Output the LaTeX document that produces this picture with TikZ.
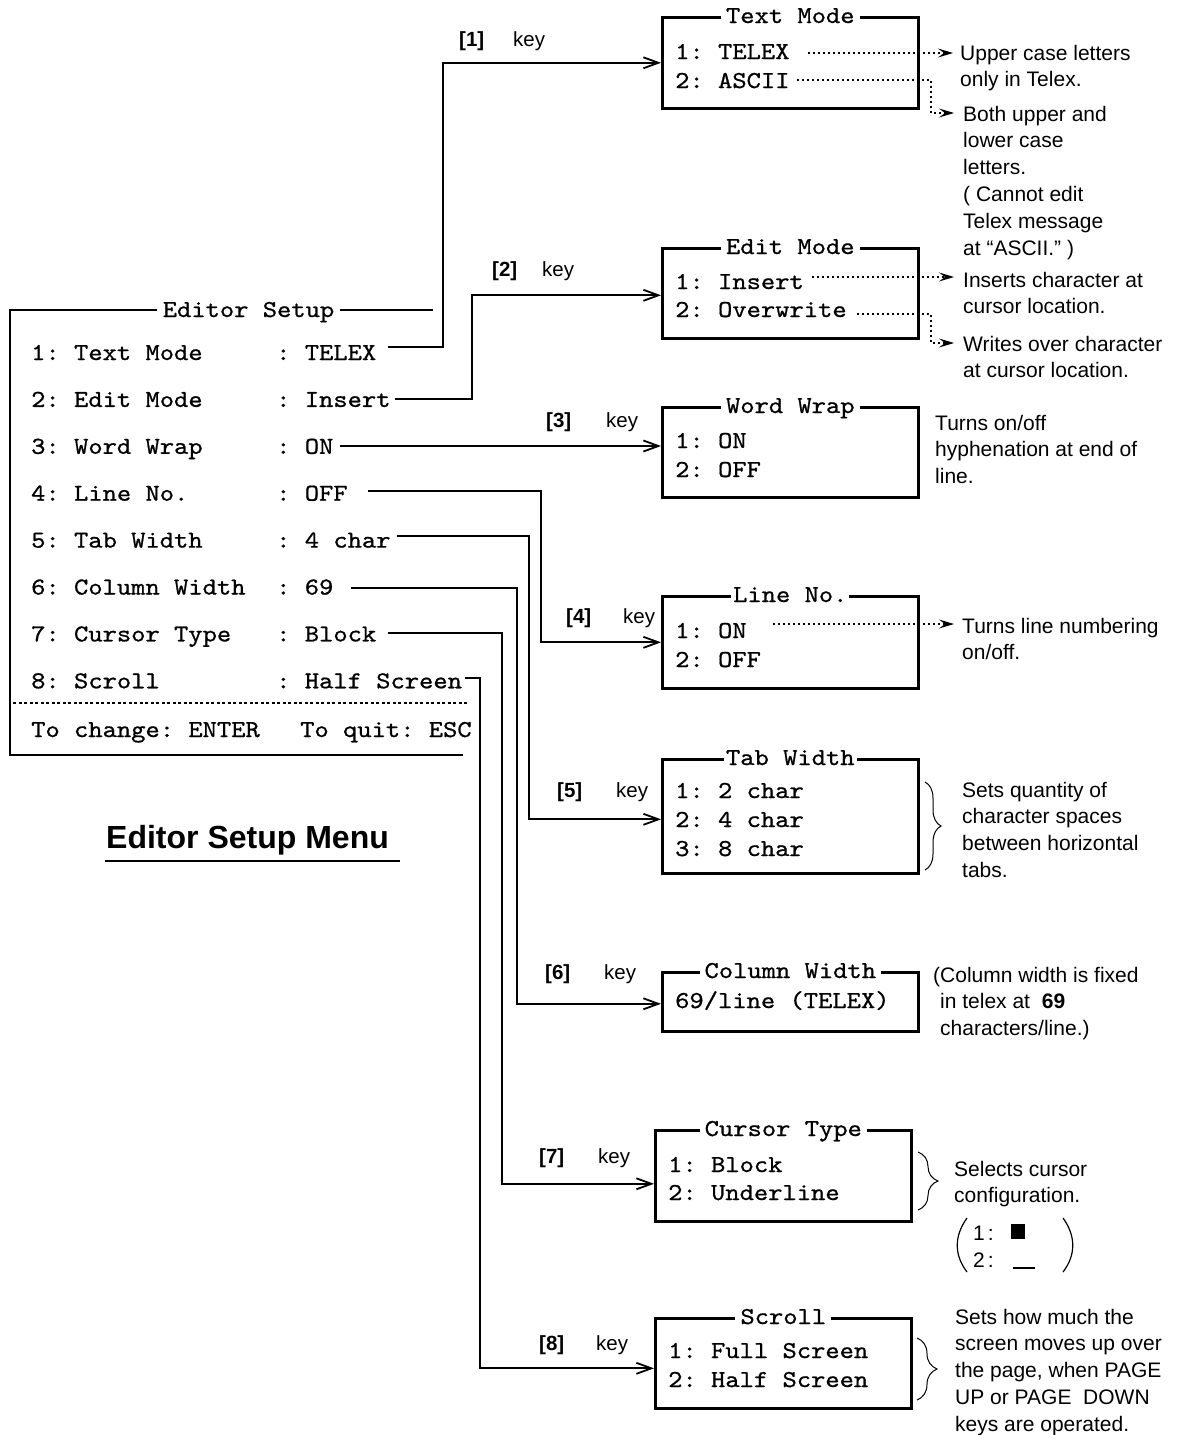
\documentclass[tikz,border=0pt]{standalone}
\usepackage{fontspec}
\usetikzlibrary{arrows.meta,decorations.pathreplacing}
\newfontfamily\sansf{Liberation Sans}
\newfontfamily\monof{lmmono10-regular}[Extension=.otf,FakeStretch=1.12,FakeBold=0.8]
\newcommand\mlines[1]{\vtop{\let\\\cr\halign{##\hfil\cr#1\crcr}}}
\begin{document}
\frenchspacing
\begin{tikzpicture}[x=1pt,y=-1pt,
  mono/.style={font=\monof\fontsize{24.3}{29}\selectfont, inner sep=0pt, anchor=base west},
  ttl/.style={font=\monof\fontsize{24.3}{29}\selectfont, fill=white, inner xsep=5pt, inner ysep=0pt, anchor=base},
  ann/.style={font=\sansf\fontsize{21}{26.8}\selectfont, inner sep=0pt, anchor=base west},
  keyn/.style={font=\sansf\bfseries\fontsize{20.5}{24}\selectfont, inner sep=0pt, anchor=base west},
  keyw/.style={font=\sansf\fontsize{20.5}{24}\selectfont, inner sep=0pt, anchor=base west},
  boxfr/.style={draw, line width=2.6pt, inner sep=0pt, anchor=north west, minimum width=256pt},
  conn/.style={line width=1.8pt, -{Straight Barb[length=15pt,width=11pt]}},
  dotconn/.style={line width=1.4pt, dash pattern=on 2pt off 3pt, -{Stealth[length=15pt,width=9pt,inset=6pt]}},
  brc/.style={line width=1pt, decorate, decoration={brace, amplitude=#1}},
]
\fill[white] (0,0) rectangle (1177,1435);
\useasboundingbox (0,0) rectangle (1177,1435);

% ---------------- main menu ----------------
\draw[line width=2.6pt] (433,310) -- (10,310) -- (10,755) -- (463,755);
\node[ttl, inner xsep=6pt] (est) at (248.5,317) {Editor Setup};
\foreach \lab/\val [count=\n] in {{1: Text Mode}/TELEX, {2: Edit Mode}/Insert, {3: Word Wrap}/ON, {4: Line No.}/OFF, {5: Tab Width}/{4 char}, {6: Column Width}/69, {7: Cursor Type}/Block, {8: Scroll}/{Half Screen}} {
  \pgfmathsetmacro\yy{360+46.9*(\n-1)}
  \node[mono] (l\n) at (31,\yy) {\lab};
  \node[mono] (c\n) at (276,\yy) {:};
  \node[mono] (v\n) at (304.6,\yy) {\val};
}
\draw[line width=1.2pt, dash pattern=on 3pt off 2.5pt] (13,703) -- (468,703);
\node[mono] (chg) at (31,737) {To change: ENTER};
\node[mono] (quit) at (300,737) {To quit: ESC};

\node[font=\sansf\bfseries\fontsize{32}{36}\selectfont, inner sep=0pt, anchor=base west] (menu) at (106,848) {Editor Setup Menu};
\draw[line width=1.6pt] ([xshift=-1pt,yshift=-13pt]menu.base west) -- ([xshift=11pt,yshift=-13pt]menu.base east);

% ---------------- sub boxes ----------------
\node[boxfr, minimum height=91pt] (tm) at (661,16) {};
\node[ttl] (tmT) at ([yshift=-7pt]tm.north) {Text Mode};
\node[mono] (tm1) at (675,59) {1: TELEX};
\node[mono] (tm2) at (675,88) {2: ASCII};

\node[boxfr, minimum height=90pt] (em) at (661,247) {};
\node[ttl] (emT) at ([yshift=-7pt]em.north) {Edit Mode};
\node[mono] (em1) at (675,289) {1: Insert};
\node[mono] (em2) at (675,317) {2: Overwrite};

\node[boxfr, minimum height=90pt] (ww) at (661,406) {};
\node[ttl] (wwT) at ([yshift=-7pt]ww.north) {Word Wrap};
\node[mono] (ww1) at (675,448) {1: ON};
\node[mono] (ww2) at (675,477) {2: OFF};

\node[boxfr, minimum height=92pt] (ln) at (661,595) {};
\node[ttl, inner xsep=2pt] (lnT) at ([yshift=-7pt]ln.north) {Line No.};
\node[mono] (ln1) at (675,638) {1: ON};
\node[mono] (ln2) at (675,667) {2: OFF};

\node[boxfr, minimum height=114pt] (tw) at (661,758) {};
\node[ttl, inner xsep=2pt] (twT) at ([yshift=-7pt]tw.north) {Tab Width};
\node[mono] (tw1) at (675,798) {1: 2 char};
\node[mono] (tw2) at (675,827) {2: 4 char};
\node[mono] (tw3) at (675,856) {3: 8 char};

\node[boxfr, minimum height=59pt] (cw) at (661,971) {};
\node[ttl] (cwT) at ([yshift=-7pt]cw.north) {Column Width};
\node[mono] (cw1) at (675,1008) {69/line (TELEX)};

\node[boxfr, minimum height=91pt] (ct) at (654,1129) {};
\node[ttl] (ctT) at ([yshift=-7pt]ct.north) {Cursor Type};
\node[mono] (ct1) at (668,1172) {1: Block};
\node[mono] (ct2) at (668,1200) {2: Underline};

\node[boxfr, minimum height=90pt] (sc) at (654,1317) {};
\node[ttl] (scT) at ([yshift=-7pt]sc.north) {Scroll};
\node[mono] (sc1) at (668,1358) {1: Full Screen};
\node[mono] (sc2) at (668,1387) {2: Half Screen};

% ---------------- connectors ----------------
\coordinate (s1) at (388,347);
\coordinate (s2) at (395,399);
\coordinate (s3) at (340,446);
\coordinate (s4) at (368,491);
\coordinate (s5) at (397,536);
\coordinate (s6) at (351,588);
\coordinate (s7) at (388,633);
\coordinate (s8) at (465,678);
\draw[conn] (s1) -- (443,347) |- (tm.west);
\draw[conn] (s2) -- (472,399) |- ([yshift=-2pt]em.west);
\draw[conn] (s3) -- (s3 -| ww.west);
\draw[conn] (s4) -- (541,491) |- (ln.west);
\draw[conn] (s5) -- (529,536) |- ([yshift=-3pt]tw.west);
\draw[conn] (s6) -- (517,588) |- ([yshift=-2pt]cw.west);
\draw[conn] (s7) -- (502,633) |- ([yshift=-8pt]ct.west);
\draw[conn] (s8) -- (480,678) |- ([yshift=-5pt]sc.west);

\node[keyn] (k1) at (459,46) {[1]};   \node[keyw] (kw1) at (513,46) {key};
\node[keyn] (k2) at (492,276) {[2]};  \node[keyw] (kw2) at (542,276) {key};
\node[keyn] (k3) at (546,427) {[3]};  \node[keyw] (kw3) at (606,427) {key};
\node[keyn] (k4) at (566,623) {[4]};  \node[keyw] (kw4) at (623,623) {key};
\node[keyn] (k5) at (557,797) {[5]};  \node[keyw] (kw5) at (616,797) {key};
\node[keyn] (k6) at (545,979) {[6]};  \node[keyw] (kw6) at (604,979) {key};
\node[keyn] (k7) at (539,1163) {[7]}; \node[keyw] (kw7) at (598,1163) {key};
\node[keyn] (k8) at (539,1350) {[8]}; \node[keyw] (kw8) at (596,1350) {key};

% ---------------- annotations ----------------
\node[ann] (aT) at (960,60) {\mlines{Upper case letters\\only in Telex.}};
\node[ann] (aA) at (963,121) {\mlines{Both upper and\\lower case\\letters.\\( Cannot edit\\Telex message\\at “ASCII.” )}};
\node[ann] (aI) at (963,287) {\mlines{Inserts character at\\cursor location.}};
\node[ann] (aO) at (963,351) {\mlines{Writes over character\\at cursor location.}};
\node[ann] (aW) at (935,430) {\mlines{Turns on/off\\hyphenation at end of\\line.}};
\node[ann] (aL) at (962,633) {\mlines{Turns line numbering\\on/off.}};
\node[ann] (aTab) at (962,797) {\mlines{Sets quantity of\\character spaces\\between horizontal\\tabs.}};
\node[ann] (aC) at (933,982) {\mlines{(Column width is fixed\\\kern7pt in telex at\hspace{6pt} \textbf{69}\\\kern7pt characters/line.)}};
\node[ann] (aCu) at (954,1176) {\mlines{Selects cursor\\configuration.}};
\node[ann] (aS) at (955,1324) {\mlines{Sets how much the\\screen moves up over\\the page, when PAGE\\UP or PAGE\ \ DOWN\\keys are operated.}};

\coordinate (d1) at (808,53);
\coordinate (d2) at (797,80);
\coordinate (d3) at (812,277);
\coordinate (d4) at (857,314);
\coordinate (d5) at (773,624);
\draw[dotconn] (d1) -- ([xshift=-7pt,yshift=7pt]aT.base west);
\draw[dotconn] (d2) -- (931,80) |- ([xshift=-9pt,yshift=8pt]aA.base west);
\draw[dotconn] (d3) -- ([xshift=-9pt,yshift=10pt]aI.base west);
\draw[dotconn] (d4) -- (931,314) |- ([xshift=-9pt,yshift=8pt]aO.base west);
\draw[dotconn] (d5) -- ([xshift=-8pt,yshift=9pt]aL.base west);

% braces
\draw[brc=16pt] (925,782) -- (925,870);
\draw[brc=20pt] (918,1152) -- (918,1210);
\draw[brc=20pt] (917,1338) -- (917,1400);

% cursor illustration
\draw[line width=1.2pt] (967,1218) .. controls (954,1236) and (954,1255) .. (967,1272);
\draw[line width=1.2pt] (1063,1218) .. controls (1076,1236) and (1076,1255) .. (1063,1272);
\node[ann] (cu1) at (973,1240) {1\kern3pt:};
\node[ann] (cu2) at (973,1267) {2\kern3pt:};
\node[fill=black, inner sep=0pt, minimum width=14pt, minimum height=15pt, anchor=north west] (blk) at (1011,1224) {};
\draw[line width=2pt] (1013,1268) -- (1035,1268);
\end{tikzpicture}
\end{document}
